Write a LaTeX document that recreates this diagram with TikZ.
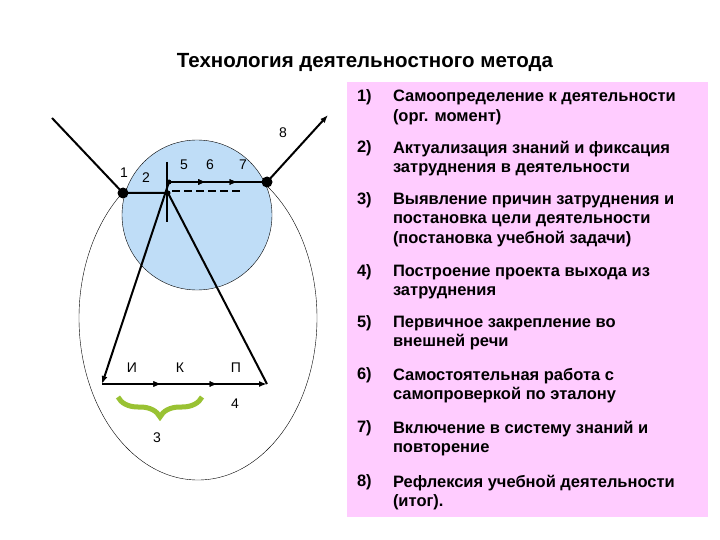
\documentclass[tikz,border=0pt]{standalone}
\usepackage{fontspec}
\setmainfont{Liberation Sans}
\usetikzlibrary{arrows.meta,decorations.markings,decorations.pathreplacing}
\definecolor{panelpink}{HTML}{FFCCFF}
\definecolor{ballblue}{HTML}{BFDDF7}
\definecolor{bracegreen}{HTML}{99C233}
\tikzset{
  lbl/.style={font=\fontsize{14}{14}\selectfont, inner sep=1pt},
  dot/.style={circle, fill=black, inner sep=0pt, minimum size=#1},
  num/.style={font=\fontsize{16.5}{19}\selectfont\bfseries, anchor=north west, inner sep=0pt},
  stage/.style={font=\fontsize{16.5}{19.5}\selectfont\bfseries, anchor=north west, inner sep=0pt,
               align=left},
  tip/.style={-{Latex[length=8pt,width=6pt]}},
  midarr/.style={postaction={decorate}, decoration={markings,
               mark=at position #1 with {\arrow{Latex[length=8pt,width=6pt]}}}}
}
\begin{document}
\begin{tikzpicture}[x=1pt,y=-1pt, line width=2pt]
	\useasboundingbox (0,0) rectangle (720,540);
	\node[font=\fontsize{20.5}{20}\selectfont\bfseries] (title) at (365,62) {Технология деятельностного метода};

	% pink panel with steps
	\fill[panelpink] (347,82) rectangle (708,517);
	\foreach \n/\y/\t in {1/89/{Самоопределение к деятельности\\(орг. момент)},
			2/140/{Актуализация знаний и фиксация\\затруднения в деятельности},
			3/192/{Выявление причин затруднения и\\постановка цели деятельности\\(постановка учебной задачи)},
			4/264/{Построение проекта выхода из\\затруднения},
			5/315/{Первичное закрепление во\\внешней речи},
			6/367/{Самостоятельная работа с\\самопроверкой по эталону},
			7/420/{Включение в систему знаний и\\повторение},
			8/474/{Рефлексия учебной деятельности\\(итог).}}{
		\node[num] (n\n) at (356,\y) {\n)};
		\node[stage] (s\n) at (392,\y) {\t};
	}

	% ellipse and ball
	\draw[thin] (198,318) ellipse [x radius=119, y radius=162];
	\fill[ballblue] (197,215) circle [radius=75];
	\draw[thin] (197,215) circle [radius=75];

	% points
	\coordinate (in) at (52,118);
	\node[dot=11pt] (p1) at (123,193) {};
	\node[dot=5pt] (p2) at (168,193) {};
	\node[dot=5pt] (p5) at (169,182) {};
	\node[dot=11pt] (p7) at (267,182) {};
	\coordinate (out) at (328,115);
	\coordinate (vt) at (167,162);
	\coordinate (vb) at (167,222);
	\coordinate (dl) at (172,191);
	\coordinate (dr) at (240,191);
	\coordinate (bI) at (102,384);
	\coordinate (bP) at (267,384);

	\draw (in) -- (p1.center) -- (p2.center);
	\draw (vt) -- (vb);
	\draw[midarr=0.38, midarr=0.70] (p5.center) -- (p7.center);
	\draw[tip] (p7.center) -- (out);
	\draw[dashed, dash pattern=on 8pt off 4pt] (dl) -- (dr);
	\draw[tip] (p5.center) -- (bI);
	\draw[tip, midarr=0.36, midarr=0.70] (bI) -- (bP);
	\draw (p2.center) -- (bP);

	% labels
	\node[lbl] (l1) at (124,173) {1};
	\node[lbl] (l2) at (146,178) {2};
	\node[lbl] (l5) at (184,165) {5};
	\node[lbl] (l6) at (210,165) {6};
	\node[lbl] (l7) at (243,165) {7};
	\node[lbl] (l8) at (283,133) {8};
	\node[lbl] (lI) at (132,368) {И};
	\node[lbl] (lK) at (180,368) {К};
	\node[lbl] (lP) at (236,368) {П};
	\node[lbl] (l4) at (235,404) {4};
	\node[lbl] (l3) at (157,438) {3};
	\draw[bracegreen, line width=5pt, decorate, decoration={brace, amplitude=20pt, mirror}] (118,397) -- (202,397);
\end{tikzpicture}
\end{document}
